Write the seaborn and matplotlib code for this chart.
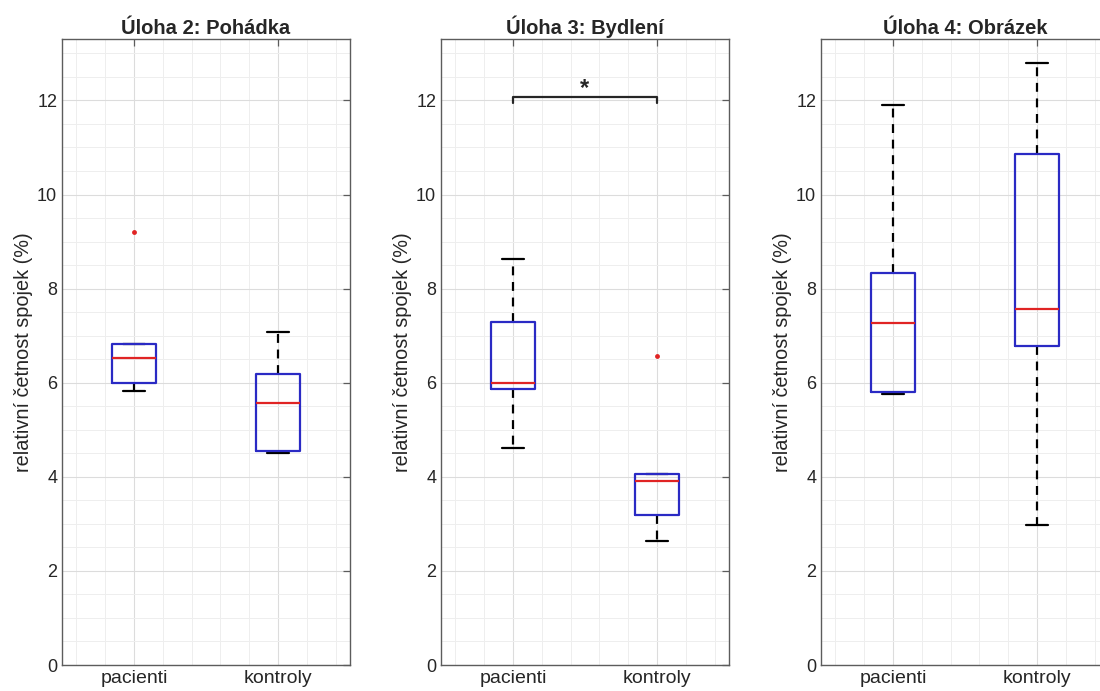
import matplotlib.pyplot as plt
import pandas as pd
import seaborn as sns
from matplotlib.ticker import MultipleLocator

# hodnoty: [dolní vous, Q1, medián, Q3, horní vous]
skupiny = ["pacienti", "kontroly"]
nazvy = ["Úloha 2: Pohádka", "Úloha 3: Bydlení", "Úloha 4: Obrázek"]

pohadka_pacienti = [5.83, 6.00, 6.52, 6.82, 6.82]
pohadka_kontroly = [4.51, 4.54, 5.56, 6.18, 7.08]
pohadka_odlehle_pacienti = [9.2]
pohadka_odlehle_kontroly = []

bydleni_pacienti = [4.62, 5.87, 5.99, 7.29, 8.62]
bydleni_kontroly = [2.63, 3.18, 3.91, 4.06, 4.06]
bydleni_odlehle_pacienti = []
bydleni_odlehle_kontroly = [6.56]

obrazek_pacienti = [5.75, 5.80, 7.27, 8.33, 11.91]
obrazek_kontroly = [2.98, 6.79, 7.57, 10.86, 12.79]
obrazek_odlehle_pacienti = []
obrazek_odlehle_kontroly = []

panely = [
    (pohadka_pacienti, pohadka_kontroly, pohadka_odlehle_pacienti, pohadka_odlehle_kontroly),
    (bydleni_pacienti, bydleni_kontroly, bydleni_odlehle_pacienti, bydleni_odlehle_kontroly),
    (obrazek_pacienti, obrazek_kontroly, obrazek_odlehle_pacienti, obrazek_odlehle_kontroly),
]

sns.set_style("white")
plt.rcParams["font.family"] = ["Liberation Sans", "DejaVu Sans"]

MODRA = "#2a2ac4"
CERVENA = "#e02424"
OSA = "#5c5c5c"

fig = plt.figure(figsize=(11, 6.91), dpi=100)
levy_okraj = [0.0564, 0.4009, 0.7464]

for i, (pac, kon, odl_pac, odl_kon) in enumerate(panely):
    ax = fig.add_axes([levy_okraj[i], 0.0376, 0.2618, 0.9056])

    df = pd.DataFrame({
        "skupina": ["pacienti"] * len(pac) + ["kontroly"] * len(kon),
        "hodnota": pac + kon,
    })
    sns.boxplot(
        data=df, x="skupina", y="hodnota", order=skupiny, ax=ax,
        whis=(0, 100), width=0.3, fill=False, color=MODRA, linewidth=1.6,
        showfliers=False,
        boxprops={"zorder": 3},
        medianprops={"color": CERVENA, "linewidth": 1.6, "zorder": 4},
        whiskerprops={"color": "black", "linestyle": (0, (4, 3)), "linewidth": 1.6, "zorder": 2},
        capprops={"color": "black", "linewidth": 1.6, "zorder": 2},
    )

    odl = pd.DataFrame({
        "skupina": ["pacienti"] * len(odl_pac) + ["kontroly"] * len(odl_kon),
        "hodnota": odl_pac + odl_kon,
    })
    if len(odl):
        sns.stripplot(data=odl, x="skupina", y="hodnota", order=skupiny, ax=ax,
                      jitter=False, color=CERVENA, size=3.5, linewidth=0)

    ax.set_xlim(-0.5, 1.5)
    ax.set_ylim(0, 13.3)
    ax.yaxis.set_major_locator(MultipleLocator(2))
    ax.yaxis.set_minor_locator(MultipleLocator(0.5))
    ax.xaxis.set_minor_locator(MultipleLocator(0.2))
    ax.grid(which="major", color="#dcdcdc", linewidth=0.8)
    ax.grid(which="minor", color="#eeeeee", linewidth=0.7)
    ax.set_axisbelow(True)

    ax.tick_params(which="both", direction="in", top=True, right=True,
                   colors=OSA, labelcolor="#262626", labelsize=13)
    ax.tick_params(axis="x", labelsize=14)
    ax.tick_params(which="major", length=5, width=0.9)
    ax.tick_params(which="minor", length=0)
    for s in ax.spines.values():
        s.set_color(OSA)
        s.set_linewidth(1.0)

    ax.set_xlabel("")
    ax.set_ylabel("relativní četnost spojek (%)", fontsize=14.3, color="#262626", labelpad=3)
    ax.set_title(nazvy[i], fontsize=14.5, fontweight="bold", pad=4)

    # hvězdička významnosti u Bydlení
    if i == 1:
        ax.plot([0, 0, 1, 1], [11.94, 12.07, 12.07, 11.94], color="#262626", linewidth=1.6)
        ax.text(0.5, 12.0, "*", ha="center", va="bottom", fontsize=17, fontweight="bold")

fig.savefig("out.png", dpi=100)
